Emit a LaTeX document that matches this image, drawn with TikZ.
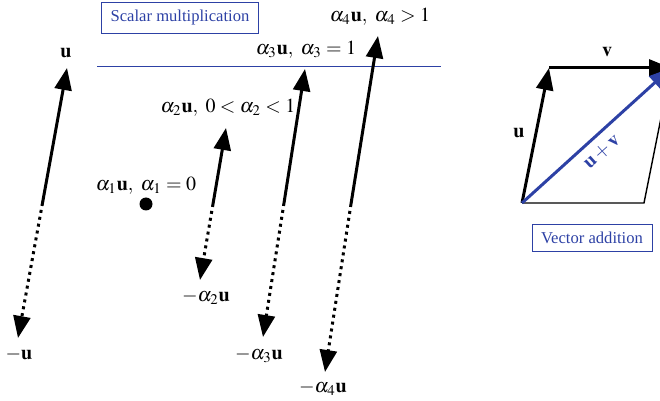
\documentclass[tikz,border=0pt]{standalone}
\usepackage{mathptmx}
\usepackage{fontspec}
\setmainfont{Liberation Serif}
\usetikzlibrary{arrows.meta}
\definecolor{vecblue}{RGB}{45,65,165}
\tikzset{
  vec/.style={line width=1.5pt, -{Triangle[length=11pt,width=8.5pt]}},
  negvec/.style={vec, dotted},
  caption/.style={draw=vecblue, thin, text=vecblue, font=\fontsize{8.3}{10}\selectfont,
    inner xsep=4.5pt, inner ysep=4pt}
}
\begin{document}
\begin{tikzpicture}[x=0.5pt, y=-0.5pt]
    \clip (0,0) rectangle (660,401);
    % scalar multiplication
    \node[caption] (smul) at (180,18) {Scalar multiplication};
    \coordinate (lineL) at (97,66);
    \coordinate (lineR) at (441,66);
    \draw[vecblue, thin] (lineL) -- (lineR);
    \coordinate (o0) at (42.5,203);
    \coordinate (u) at (67,68);
    \coordinate (mu) at (18,338);
    \draw[vec] (o0) -- (u);
    \draw[negvec] (o0) -- (mu);
    \node (ulab) at (66,53) {$\mathbf{u}$};
    \node (mulab) at (19,355) {$-\mathbf{u}$};
    \node[circle, fill, inner sep=0pt, minimum size=6.5pt] (zero) at (146,204) {};
    \node (a1lab) at (146,186) {$\alpha_1\mathbf{u},\ \alpha_1=0$};
    \coordinate (o2) at (213,204);
    \coordinate (a2) at (226,128);
    \coordinate (ma2) at (200,280);
    \draw[vec] (o2) -- (a2);
    \draw[negvec] (o2) -- (ma2);
    \node (a2lab) at (228,108) {$\alpha_2\mathbf{u},\ 0<\alpha_2<1$};
    \node (ma2lab) at (206,297) {$-\alpha_2\mathbf{u}$};
    \coordinate (o3) at (284,203);
    \coordinate (a3) at (305,69);
    \coordinate (ma3) at (263,337);
    \draw[vec] (o3) -- (a3);
    \draw[negvec] (o3) -- (ma3);
    \node (a3lab) at (306,50) {$\alpha_3\mathbf{u},\ \alpha_3=1$};
    \node (ma3lab) at (259,355) {$-\alpha_3\mathbf{u}$};
    \coordinate (o4) at (351,204);
    \coordinate (a4) at (378,36);
    \coordinate (ma4) at (325,372);
    \draw[vec] (o4) -- (a4);
    \draw[negvec] (o4) -- (ma4);
    \node (a4lab) at (380,17) {$\alpha_4\mathbf{u},\ \alpha_4>1$};
    \node (ma4lab) at (323,388) {$-\alpha_4\mathbf{u}$};
    % vector addition
    \coordinate (O) at (522,203);
    \coordinate (U) at (549,68);
    \coordinate (UV) at (671,68);
    \coordinate (V) at (644,203);
    \draw[line width=0.7pt] (O) -- (V) -- (UV);
    \draw[vec] (O) -- (U);
    \draw[vec] (U) -- (UV);
    \draw[vec, vecblue] (O) -- (UV);
    \node (vlab) at (607,52) {$\mathbf{v}$};
    \node (uplab) at (519,133) {$\mathbf{u}$};
    \node[text=vecblue, rotate=42] (uvlab) at (602,152) {$\mathbf{u}+\mathbf{v}$};
    \node[caption] (vadd) at (592,238) {Vector addition};
\end{tikzpicture}
\end{document}
